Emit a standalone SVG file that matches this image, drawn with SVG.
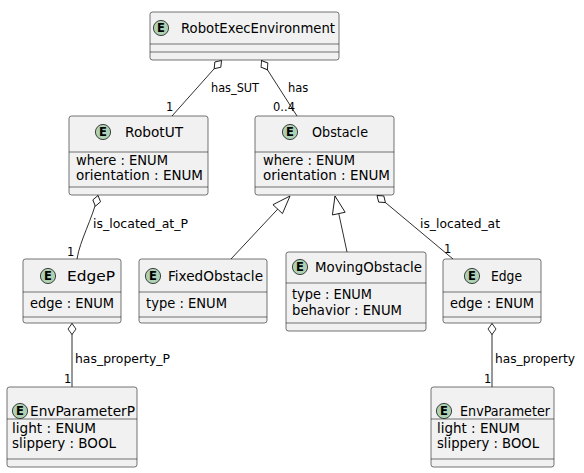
<svg xmlns="http://www.w3.org/2000/svg" width="584" height="473" viewBox="0 0 584 473">
<style>
.box{fill:#F1F1F1;stroke:#181818;stroke-width:0.6}
.sep{stroke:#181818;stroke-width:0.6}
.spot{fill:#ADD1B2;stroke:#181818;stroke-width:0.8}
.spotl{font-family:"DejaVu Sans",sans-serif;font-size:11.5px;font-weight:bold;fill:#000;text-anchor:middle}
.title{font-family:"DejaVu Sans",sans-serif;font-size:14px;fill:#000}
.attr{font-family:"DejaVu Sans",sans-serif;font-size:13.5px;fill:#000}
.lbl{font-family:"DejaVu Sans",sans-serif;font-size:11.5px;fill:#000}
.conn{fill:none;stroke:#181818;stroke-width:0.9}
.agg{marker-start:url(#diamond)}
.inh{marker-end:url(#tri)}
</style>
<defs>
<marker id="diamond" markerUnits="userSpaceOnUse" markerWidth="14" markerHeight="10" refX="0" refY="0" orient="auto" overflow="visible">
<path d="M0,0 L5.5,-4 L11,0 L5.5,4 Z" fill="#FFFFFF" stroke="#181818" stroke-width="0.9"/>
</marker>
<marker id="tri" markerUnits="userSpaceOnUse" markerWidth="20" markerHeight="16" refX="0" refY="0" orient="auto" overflow="visible">
<path d="M0,0 L-18,-6.5 L-18,6.5 Z" fill="#FFFFFF" stroke="#181818" stroke-width="0.9"/>
</marker>
</defs>
<rect width="584" height="473" fill="#FFFFFF"/>

<g id="connectors">
<path class="conn agg" d="M221.5,60.5 L172,116"/>
<path class="conn agg" d="M261.5,60.5 L297,116"/>
<path class="conn agg" d="M98,195.5 C92,220 80,240 77,259"/>
<path class="conn inh" d="M231,259 L290,196"/>
<path class="conn inh" d="M347,252 L335,196"/>
<path class="conn agg" d="M377,195.5 L453,259"/>
<path class="conn agg" d="M72,323.5 L72,387"/>
<path class="conn agg" d="M492,323.5 L492,387"/>
<text class="lbl" x="211" y="92" textLength="48" lengthAdjust="spacingAndGlyphs">has_SUT</text>
<text class="lbl" x="166" y="111">1</text>
<text class="lbl" x="288" y="92">has</text>
<text class="lbl" x="273" y="111">0..4</text>
<text class="lbl" x="93" y="228" textLength="95" lengthAdjust="spacingAndGlyphs">is_located_at_P</text>
<text class="lbl" x="67" y="256">1</text>
<text class="lbl" x="420" y="228" textLength="80" lengthAdjust="spacingAndGlyphs">is_located_at</text>
<text class="lbl" x="444" y="253">1</text>
<text class="lbl" x="75" y="363" textLength="95" lengthAdjust="spacingAndGlyphs">has_property_P</text>
<text class="lbl" x="64" y="383">1</text>
<text class="lbl" x="495" y="363" textLength="80" lengthAdjust="spacingAndGlyphs">has_property</text>
<text class="lbl" x="484" y="383">1</text>
</g>

<g id="RobotExecEnvironment">
<rect class="box" x="150" y="12" width="189" height="48" rx="2.5"/>
<line class="sep" x1="150" y1="44" x2="339" y2="44"/>
<line class="sep" x1="150" y1="52" x2="339" y2="52"/>
<circle class="spot" cx="161" cy="28" r="7.6"/>
<text class="spotl" x="161" y="32">E</text>
<text class="title" x="181" y="33" textLength="154" lengthAdjust="spacingAndGlyphs">RobotExecEnvironment</text>
</g>

<g id="RobotUT">
<rect class="box" x="69" y="116" width="139" height="79" rx="2.5"/>
<line class="sep" x1="69" y1="152" x2="208" y2="152"/>
<line class="sep" x1="69" y1="187" x2="208" y2="187"/>
<circle class="spot" cx="103" cy="132" r="7.6"/>
<text class="spotl" x="103" y="136">E</text>
<text class="title" x="125" y="137" textLength="58" lengthAdjust="spacingAndGlyphs">RobotUT</text>
<text class="attr" x="76" y="165" textLength="92" lengthAdjust="spacingAndGlyphs">where : ENUM</text>
<text class="attr" x="76" y="180" textLength="127" lengthAdjust="spacingAndGlyphs">orientation : ENUM</text>
</g>

<g id="Obstacle">
<rect class="box" x="255" y="116" width="139" height="79" rx="2.5"/>
<line class="sep" x1="255" y1="152" x2="394" y2="152"/>
<line class="sep" x1="255" y1="187" x2="394" y2="187"/>
<circle class="spot" cx="290" cy="132" r="7.6"/>
<text class="spotl" x="290" y="136">E</text>
<text class="title" x="312" y="137" textLength="56" lengthAdjust="spacingAndGlyphs">Obstacle</text>
<text class="attr" x="263" y="165" textLength="92" lengthAdjust="spacingAndGlyphs">where : ENUM</text>
<text class="attr" x="263" y="180" textLength="127" lengthAdjust="spacingAndGlyphs">orientation : ENUM</text>
</g>

<g id="EdgeP">
<rect class="box" x="23" y="259" width="98" height="64" rx="2.5"/>
<line class="sep" x1="23" y1="292" x2="121" y2="292"/>
<line class="sep" x1="23" y1="317" x2="121" y2="317"/>
<circle class="spot" cx="48" cy="276" r="7.6"/>
<text class="spotl" x="48" y="280">E</text>
<text class="title" x="67" y="281" textLength="48" lengthAdjust="spacingAndGlyphs">EdgeP</text>
<text class="attr" x="30" y="308" textLength="84" lengthAdjust="spacingAndGlyphs">edge : ENUM</text>
</g>

<g id="FixedObstacle">
<rect class="box" x="139" y="259" width="128" height="64" rx="2.5"/>
<line class="sep" x1="139" y1="292" x2="267" y2="292"/>
<line class="sep" x1="139" y1="317" x2="267" y2="317"/>
<circle class="spot" cx="153" cy="276" r="7.6"/>
<text class="spotl" x="153" y="280">E</text>
<text class="title" x="168" y="281" textLength="95" lengthAdjust="spacingAndGlyphs">FixedObstacle</text>
<text class="attr" x="146" y="308" textLength="81" lengthAdjust="spacingAndGlyphs">type : ENUM</text>
</g>

<g id="MovingObstacle">
<rect class="box" x="286" y="252" width="140" height="79" rx="2.5"/>
<line class="sep" x1="286" y1="283" x2="426" y2="283"/>
<line class="sep" x1="286" y1="323" x2="426" y2="323"/>
<circle class="spot" cx="300" cy="267" r="7.6"/>
<text class="spotl" x="300" y="271">E</text>
<text class="title" x="315" y="272" textLength="107" lengthAdjust="spacingAndGlyphs">MovingObstacle</text>
<text class="attr" x="292" y="299" textLength="80" lengthAdjust="spacingAndGlyphs">type : ENUM</text>
<text class="attr" x="292" y="315" textLength="110" lengthAdjust="spacingAndGlyphs">behavior : ENUM</text>
</g>

<g id="Edge">
<rect class="box" x="443" y="259" width="98" height="64" rx="2.5"/>
<line class="sep" x1="443" y1="292" x2="541" y2="292"/>
<line class="sep" x1="443" y1="317" x2="541" y2="317"/>
<circle class="spot" cx="472" cy="276" r="7.6"/>
<text class="spotl" x="472" y="280">E</text>
<text class="title" x="491" y="281" textLength="31" lengthAdjust="spacingAndGlyphs">Edge</text>
<text class="attr" x="450" y="308" textLength="84" lengthAdjust="spacingAndGlyphs">edge : ENUM</text>
</g>

<g id="EnvParameterP">
<rect class="box" x="7" y="387" width="130" height="80" rx="2.5"/>
<line class="sep" x1="7" y1="419" x2="137" y2="419"/>
<line class="sep" x1="7" y1="459" x2="137" y2="459"/>
<circle class="spot" cx="20" cy="411" r="7.6"/>
<text class="spotl" x="20" y="415">E</text>
<text class="title" x="30" y="416" textLength="105" lengthAdjust="spacingAndGlyphs">EnvParameterP</text>
<text class="attr" x="12" y="433" textLength="84" lengthAdjust="spacingAndGlyphs">light : ENUM</text>
<text class="attr" x="12" y="448" textLength="104" lengthAdjust="spacingAndGlyphs">slippery : BOOL</text>
</g>

<g id="EnvParameter">
<rect class="box" x="431" y="387" width="123" height="80" rx="2.5"/>
<line class="sep" x1="431" y1="419" x2="554" y2="419"/>
<line class="sep" x1="431" y1="459" x2="554" y2="459"/>
<circle class="spot" cx="444" cy="411" r="7.6"/>
<text class="spotl" x="444" y="415">E</text>
<text class="title" x="460" y="416" textLength="90" lengthAdjust="spacingAndGlyphs">EnvParameter</text>
<text class="attr" x="437" y="433" textLength="83" lengthAdjust="spacingAndGlyphs">light : ENUM</text>
<text class="attr" x="437" y="448" textLength="102" lengthAdjust="spacingAndGlyphs">slippery : BOOL</text>
</g>
</svg>
